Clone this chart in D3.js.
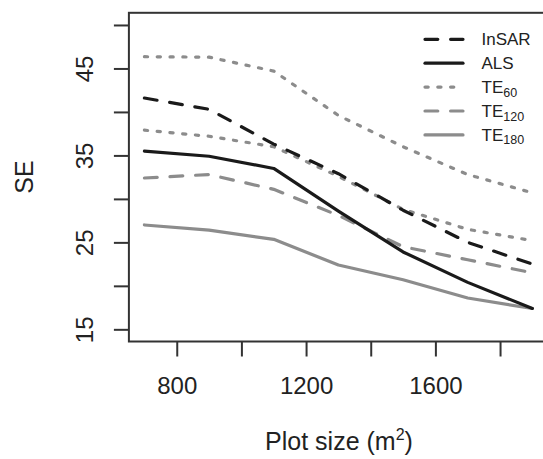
<!DOCTYPE html>
<html>
<head>
<meta charset="utf-8">
<script src="https://cdn.jsdelivr.net/npm/d3@7"></script>
<style>
  html, body { margin: 0; padding: 0; background: #fff; }
  svg { display: block; font-family: "Liberation Sans", Arial, Helvetica, sans-serif; }
</style>
</head>
<body>
<svg id="chart" width="543" height="459"></svg>
<script>
// ---- data ----
const plotSize = [700, 900, 1100, 1300, 1500, 1700, 1900];
const insar    = [41.6, 40.3, 36.3, 32.9, 28.7, 25.0, 22.5];
const als      = [35.5, 34.9, 33.5, 28.6, 23.9, 20.4, 17.4];
const te60Upper = [46.35, 46.3, 44.7, 39.6, 36.0, 32.8, 30.7];
const te60Lower = [37.9, 37.2, 36.0, 32.6, 28.8, 26.5, 25.2];
const te120    = [32.4, 32.8, 31.1, 28.1, 24.5, 23.0, 21.5];
const te180    = [27.0, 26.4, 25.35, 22.4, 20.7, 18.6, 17.4];

const xTicks = [800, 1000, 1200, 1400, 1600, 1800];
const xTickLabels = ["800", "", "1200", "", "1600", ""];
const yTicks = [15, 20, 25, 30, 35, 40, 45, 50];
const yTickLabels = ["15", "", "25", "", "35", "", "45", ""];

const legendNames = [
  {main: "InSAR", sub: ""},
  {main: "ALS", sub: ""},
  {main: "TE", sub: "60"},
  {main: "TE", sub: "120"},
  {main: "TE", sub: "180"}
];

// ---- styles ----
const BLACK = "#1a1a1a", GRAY = "#8c8c8c", LW = 3.2;
const styles = {
  insar: {color: BLACK, dash: `${4*LW},${4*LW}`},
  als:   {color: BLACK, dash: null},
  te60:  {color: GRAY,  dash: `${LW},${3*LW}`},
  te120: {color: GRAY,  dash: `${4*LW},${4*LW}`},
  te180: {color: GRAY,  dash: null}
};

const series = [
  {vals: te60Upper, st: styles.te60},
  {vals: te60Lower, st: styles.te60},
  {vals: te180, st: styles.te180},
  {vals: te120, st: styles.te120},
  {vals: als, st: styles.als},
  {vals: insar, st: styles.insar}
];
const legendStyles = [styles.insar, styles.als, styles.te60, styles.te120, styles.te180];

// ---- scales ----
const svg = d3.select("#chart");
const x = d3.scaleLinear().domain([652, 1948]).range([128.9, 547.9]);
const y = d3.scaleLinear().domain([13.6, 51.4]).range([341.5, 12.8]);
const AX = "#333";

// lines
const line = d3.line().x((d, i) => x(plotSize[i])).y(d => y(d));
series.forEach(s => {
  svg.append("path")
    .datum(s.vals)
    .attr("d", line)
    .attr("fill", "none")
    .attr("stroke", s.st.color)
    .attr("stroke-width", LW)
    .attr("stroke-linecap", "round")
    .attr("stroke-linejoin", "round")
    .attr("stroke-dasharray", s.st.dash);
});

// box
svg.append("rect")
  .attr("x", x(652)).attr("y", y(51.4))
  .attr("width", x(1948) - x(652)).attr("height", y(13.6) - y(51.4))
  .attr("fill", "none").attr("stroke", AX).attr("stroke-width", 2);

// x axis
const xAxis = d3.axisBottom(x).tickValues(xTicks).tickSize(15)
  .tickFormat((d, i) => xTickLabels[i]);
const gx = svg.append("g").attr("transform", `translate(0,${y(13.6)})`).call(xAxis);
gx.select(".domain").remove();
gx.selectAll(".tick line").attr("stroke", AX).attr("stroke-width", 2);
gx.selectAll(".tick text").attr("fill", "#222").attr("font-size", 24)
  .attr("dy", null).attr("y", 52.5);

// y axis
const yAxis = d3.axisLeft(y).tickValues(yTicks).tickSize(15)
  .tickFormat((d, i) => yTickLabels[i]);
const gy = svg.append("g").attr("transform", `translate(${x(652)},0)`).call(yAxis);
gy.select(".domain").remove();
gy.selectAll(".tick line").attr("stroke", AX).attr("stroke-width", 2);
gy.selectAll(".tick text").attr("fill", "#222").attr("font-size", 24)
  .attr("x", null).attr("dy", null)
  .attr("text-anchor", "middle")
  .attr("transform", "translate(-36,0) rotate(-90)");

// axis titles
svg.append("text")
  .attr("x", 339).attr("y", 450)
  .attr("text-anchor", "middle").attr("font-size", 25).attr("fill", "#222")
  .call(t => {
    t.append("tspan").text("Plot size (m");
    t.append("tspan").text("2").attr("font-size", 16).attr("dy", -10);
    t.append("tspan").text(")").attr("dy", 10);
  });
svg.append("text")
  .attr("transform", "translate(33,177) rotate(-90)")
  .attr("text-anchor", "middle").attr("font-size", 25).attr("fill", "#222")
  .text("SE");

// legend
const lg = svg.append("g");
legendNames.forEach((nm, i) => {
  const ly = 39.3 + i * 23.9;
  const st = legendStyles[i];
  lg.append("line")
    .attr("x1", 425).attr("x2", 463).attr("y1", ly).attr("y2", ly)
    .attr("stroke", st.color).attr("stroke-width", LW)
    .attr("stroke-linecap", "round")
    .attr("stroke-dasharray", st.dash);
  const t = lg.append("text")
    .attr("x", 481.5).attr("y", ly + 6)
    .attr("font-size", 17).attr("fill", "#222");
  t.append("tspan").text(nm.main);
  if (nm.sub) t.append("tspan").text(nm.sub).attr("font-size", 12.5).attr("dy", 3.5);
});
</script>
</body>
</html>
